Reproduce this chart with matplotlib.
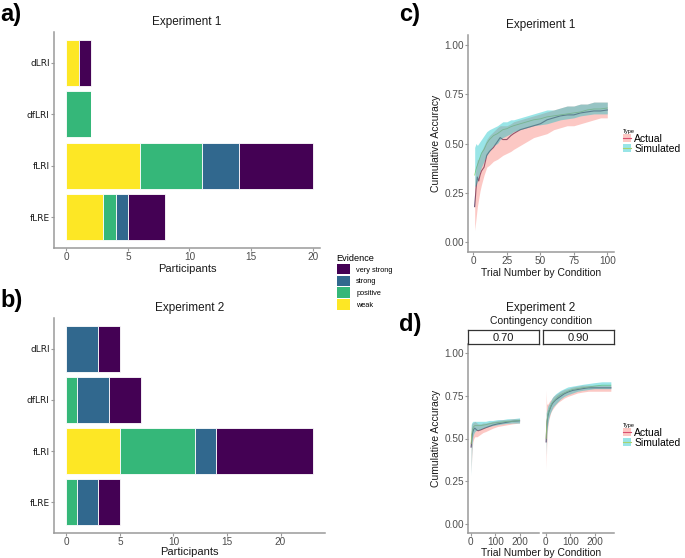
import matplotlib
matplotlib.use("Agg")
import matplotlib.pyplot as plt
from matplotlib.patches import Patch
from matplotlib.lines import Line2D

plt.rcParams['font.family'] = ['Liberation Sans', 'DejaVu Sans']

# ---- data: panels a/b (participants by evidence) ----
models = ['dLRI', 'dfLRI', 'fLRI', 'fLRE']
evidence = ['weak', 'positive', 'strong', 'very strong']
evidence_colors = {'very strong': '#440154', 'strong': '#31688E',
                   'positive': '#35B779', 'weak': '#FDE725'}

exp1_weak = [1, 0, 6, 3]
exp1_positive = [0, 2, 5, 1]
exp1_strong = [0, 0, 3, 1]
exp1_very_strong = [1, 0, 6, 3]

exp2_weak = [0, 0, 5, 0]
exp2_positive = [0, 1, 7, 1]
exp2_strong = [3, 3, 2, 2]
exp2_very_strong = [2, 3, 9, 2]

# ---- data: panel c (experiment 1 cumulative accuracy) ----
c_trial = [1, 2, 3, 4, 5, 6, 8, 10, 12, 15, 18, 20, 22, 25, 28, 30, 35, 40, 45, 50,
           55, 60, 65, 70, 75, 80, 85, 90, 95, 100]
c_act_mean = [0.18, 0.27, 0.33, 0.31, 0.34, 0.36, 0.38, 0.44, 0.46, 0.48, 0.51, 0.53,
              0.52, 0.52, 0.54, 0.55, 0.57, 0.58, 0.59, 0.60, 0.62, 0.63, 0.64, 0.645,
              0.645, 0.655, 0.66, 0.665, 0.665, 0.67]
c_act_lo = [0.06, 0.12, 0.18, 0.22, 0.26, 0.29, 0.34, 0.38, 0.39, 0.41, 0.42, 0.43,
            0.44, 0.45, 0.46, 0.47, 0.49, 0.51, 0.53, 0.54, 0.55, 0.57, 0.58, 0.59,
            0.59, 0.60, 0.61, 0.62, 0.63, 0.63]
c_act_hi = [0.30, 0.38, 0.42, 0.42, 0.44, 0.46, 0.49, 0.52, 0.54, 0.56, 0.58, 0.59,
            0.59, 0.59, 0.60, 0.61, 0.62, 0.63, 0.64, 0.65, 0.66, 0.67, 0.68, 0.69,
            0.69, 0.70, 0.70, 0.71, 0.71, 0.71]
c_sim_mean = [0.34, 0.37, 0.39, 0.41, 0.43, 0.45, 0.47, 0.50, 0.52, 0.54, 0.55, 0.56,
              0.57, 0.575, 0.585, 0.59, 0.60, 0.61, 0.62, 0.625, 0.635, 0.64, 0.645,
              0.65, 0.655, 0.66, 0.67, 0.675, 0.675, 0.68]
c_sim_lo = [0.28, 0.29, 0.31, 0.34, 0.36, 0.38, 0.41, 0.44, 0.46, 0.49, 0.50, 0.52,
            0.53, 0.54, 0.55, 0.56, 0.57, 0.58, 0.59, 0.595, 0.60, 0.61, 0.62, 0.625,
            0.63, 0.64, 0.645, 0.65, 0.65, 0.65]
c_sim_hi = [0.48, 0.50, 0.49, 0.50, 0.51, 0.52, 0.54, 0.56, 0.57, 0.58, 0.59, 0.60,
            0.61, 0.61, 0.62, 0.62, 0.63, 0.64, 0.65, 0.66, 0.67, 0.67, 0.68, 0.69,
            0.69, 0.70, 0.70, 0.71, 0.71, 0.71]

# ---- data: panel d (experiment 2, contingency 0.70 / 0.90) ----
d70_trial = [1, 3, 5, 8, 12, 16, 20, 25, 30, 35, 40, 50, 60, 75, 90, 110, 130, 150, 170, 200]
d70_act_mean = [0.45, 0.49, 0.52, 0.54, 0.555, 0.56, 0.555, 0.548, 0.545, 0.548, 0.55,
                0.556, 0.562, 0.57, 0.578, 0.585, 0.59, 0.595, 0.60, 0.603]
d70_act_lo = [0.30, 0.38, 0.44, 0.48, 0.50, 0.51, 0.51, 0.51, 0.515, 0.52, 0.525, 0.535,
              0.54, 0.55, 0.56, 0.57, 0.575, 0.58, 0.585, 0.59]
d70_act_hi = [0.56, 0.58, 0.59, 0.59, 0.595, 0.60, 0.595, 0.59, 0.585, 0.585, 0.585, 0.59,
              0.59, 0.595, 0.60, 0.605, 0.61, 0.61, 0.615, 0.615]
d70_sim_mean = [0.47, 0.52, 0.54, 0.56, 0.57, 0.575, 0.575, 0.575, 0.575, 0.575, 0.575,
                0.578, 0.58, 0.585, 0.59, 0.593, 0.596, 0.60, 0.60, 0.605]
d70_sim_lo = [0.28, 0.40, 0.47, 0.51, 0.53, 0.54, 0.545, 0.55, 0.55, 0.55, 0.555, 0.56,
              0.565, 0.57, 0.575, 0.58, 0.585, 0.588, 0.59, 0.59]
d70_sim_hi = [0.58, 0.59, 0.595, 0.60, 0.60, 0.60, 0.60, 0.60, 0.60, 0.60, 0.60, 0.60,
              0.60, 0.605, 0.605, 0.61, 0.61, 0.615, 0.615, 0.62]

d90_trial = [1, 3, 5, 8, 12, 16, 20, 25, 30, 40, 50, 60, 75, 90, 110, 130, 150, 175, 200, 230, 267]
d90_act_mean = [0.48, 0.56, 0.60, 0.63, 0.655, 0.67, 0.685, 0.70, 0.71, 0.725, 0.735,
                0.745, 0.76, 0.77, 0.78, 0.785, 0.79, 0.795, 0.795, 0.795, 0.795]
d90_act_lo = [0.32, 0.45, 0.52, 0.57, 0.61, 0.63, 0.65, 0.665, 0.675, 0.695, 0.71, 0.72,
              0.735, 0.745, 0.755, 0.765, 0.77, 0.775, 0.775, 0.775, 0.775]
d90_act_hi = [0.78, 0.70, 0.70, 0.70, 0.71, 0.72, 0.725, 0.735, 0.745, 0.755, 0.765,
              0.775, 0.785, 0.79, 0.80, 0.805, 0.81, 0.81, 0.81, 0.81, 0.81]
d90_sim_mean = [0.50, 0.57, 0.61, 0.64, 0.66, 0.675, 0.69, 0.705, 0.715, 0.73, 0.745,
                0.755, 0.765, 0.775, 0.785, 0.79, 0.795, 0.80, 0.805, 0.81, 0.81]
d90_sim_lo = [0.40, 0.50, 0.55, 0.59, 0.62, 0.64, 0.655, 0.67, 0.685, 0.70, 0.715, 0.73,
              0.745, 0.755, 0.765, 0.775, 0.78, 0.785, 0.79, 0.79, 0.79]
d90_sim_hi = [0.65, 0.66, 0.67, 0.69, 0.70, 0.71, 0.72, 0.735, 0.745, 0.76, 0.77, 0.78,
              0.79, 0.80, 0.805, 0.81, 0.815, 0.82, 0.825, 0.83, 0.83]

RED = '#F8766D'
TEAL = '#00BFC4'
AXIS_GREY = '#9a9a9a'
TICK_TXT = '#4d4d4d'
DARK = '#1a1a1a'

W, H = 685, 558
fig = plt.figure(figsize=(W / 100, H / 100), dpi=100)


def px_axes(left, top, right, bottom):
    return fig.add_axes([left / W, 1 - bottom / H, (right - left) / W, (bottom - top) / H])


def classic(ax):
    for s in ['top', 'right']:
        ax.spines[s].set_visible(False)
    for s in ['left', 'bottom']:
        ax.spines[s].set_color(AXIS_GREY)
        ax.spines[s].set_linewidth(1.1)
    ax.tick_params(colors=AXIS_GREY, labelcolor=TICK_TXT, labelsize=7.2, length=2,
                   width=0.8, pad=1)


def bar_panel(ax, weak, positive, strong, very_strong, title, xmin, xmax):
    ypos = list(range(len(models)))
    left = [0] * len(models)
    for name, vals in zip(evidence, [weak, positive, strong, very_strong]):
        ax.barh(ypos, vals, left=left, height=0.9, color=evidence_colors[name],
                edgecolor='white', linewidth=0.6)
        left = [a + b for a, b in zip(left, vals)]
    classic(ax)
    ax.set_yticks(ypos)
    ax.set_yticklabels(models, family='DejaVu Sans', fontsize=6.5, color=DARK)
    ax.set_ylim(len(models) - 0.4, -0.6)
    ax.set_xlim(xmin, xmax)
    ax.set_xticks([0, 5, 10, 15, 20])
    ax.set_xlabel('Participants', fontsize=8, color=DARK, labelpad=1)
    ax.set_title(title, fontsize=8.5, color=DARK, pad=5)


ax_a = px_axes(54, 32, 320, 248)
bar_panel(ax_a, exp1_weak, exp1_positive, exp1_strong, exp1_very_strong, 'Experiment 1', -1.0, 20.6)
ax_b = px_axes(54, 318, 325, 533)
bar_panel(ax_b, exp2_weak, exp2_positive, exp2_strong, exp2_very_strong, 'Experiment 2', -1.15, 24.15)
ax_b.xaxis.labelpad = 0

ev_handles = [Patch(facecolor=evidence_colors[e]) for e in reversed(evidence)]
fig.legend(ev_handles, list(reversed(evidence)), title='Evidence', loc='upper left',
           bbox_to_anchor=(336 / W, 1 - 253 / H), frameon=False, fontsize=5.3,
           title_fontsize=6.6, handlelength=1.85, handleheight=1.85, labelspacing=0.15,
           handletextpad=0.8, alignment='left', borderpad=0.1, borderaxespad=0)


def ribbon(ax, t, lo, hi, mean, col, line_col, lw):
    ax.plot(t, mean, color=line_col, lw=lw, zorder=2)
    ax.fill_between(t, lo, hi, color=col, alpha=0.4, lw=0, zorder=3)


def acc_axes(ax):
    classic(ax)
    ax.set_ylim(-0.05, 1.05)
    ax.set_yticks([0, 0.25, 0.5, 0.75, 1.0])
    ax.set_yticklabels(['0.00', '0.25', '0.50', '0.75', '1.00'])


# panel c
ax_c = px_axes(468, 35, 614, 252)
ribbon(ax_c, c_trial, c_act_lo, c_act_hi, c_act_mean, RED, '#5a3f68', 0.8)
ribbon(ax_c, c_trial, c_sim_lo, c_sim_hi, c_sim_mean, TEAL, '#a9d36f', 0.6)
acc_axes(ax_c)
ax_c.set_xlim(-4, 105)
ax_c.set_xticks([0, 25, 50, 75, 100])
ax_c.set_title('Experiment 1', fontsize=8.5, color=DARK, pad=5)
ax_c.set_xlabel('Trial Number by Condition', fontsize=7.5, color=DARK, labelpad=1.5)
ax_c.set_ylabel('Cumulative Accuracy', fontsize=7.5, color=DARK, labelpad=2.5)

# panel d
ax_d1 = px_axes(468, 344, 539, 533)
ax_d2 = px_axes(543, 344, 614, 533)
ribbon(ax_d1, d70_trial, d70_act_lo, d70_act_hi, d70_act_mean, RED, '#5a3f68', 0.8)
ribbon(ax_d1, d70_trial, d70_sim_lo, d70_sim_hi, d70_sim_mean, TEAL, '#a9d36f', 0.6)
ribbon(ax_d2, d90_trial, d90_act_lo, d90_act_hi, d90_act_mean, RED, '#5a3f68', 0.8)
ribbon(ax_d2, d90_trial, d90_sim_lo, d90_sim_hi, d90_sim_mean, TEAL, '#a9d36f', 0.6)
for ax in (ax_d1, ax_d2):
    acc_axes(ax)
    ax.set_xlim(-12, 280)
    ax.set_xticks([0, 100, 200])
ax_d2.spines['left'].set_visible(False)
ax_d2.tick_params(axis='y', left=False, labelleft=False)
ax_d1.set_ylabel('Cumulative Accuracy', fontsize=7.5, color=DARK, labelpad=2.5)
fig.text(541 / W, 1 - 552.5 / H, 'Trial Number by Condition', ha='center', va='center',
         fontsize=7.5, color=DARK)

for (l, r), lab in zip([(468, 539), (543, 614)], ['0.70', '0.90']):
    sa = px_axes(l, 330, r, 344)
    sa.set_xticks([])
    sa.set_yticks([])
    for s in sa.spines.values():
        s.set_color('#333333')
        s.set_linewidth(0.9)
    sa.text(0.5, 0.45, lab, ha='center', va='center', fontsize=8, color=DARK,
            transform=sa.transAxes)

fig.text(541 / W, 1 - 307.5 / H, 'Experiment 2', ha='center', va='center', fontsize=8.5,
         color=DARK)
fig.text(541 / W, 1 - 321.5 / H, 'Contingency condition', ha='center', va='center',
         fontsize=7.5, color=DARK)

# Type legends
type_handles = [(Patch(facecolor=RED, alpha=0.4), Line2D([], [], color='#d9506f', lw=0.8)),
                (Patch(facecolor=TEAL, alpha=0.4), Line2D([], [], color='#a9d36f', lw=0.8))]
for top in (129, 423):
    fig.legend(type_handles, ['Actual', 'Simulated'], title='Type', loc='upper left',
               bbox_to_anchor=(623 / W, 1 - top / H), frameon=False, fontsize=7.5,
               title_fontsize=4, handlelength=0.75, handleheight=0.8, labelspacing=0.0,
               handletextpad=0.35, alignment='left', borderpad=0, borderaxespad=0)

# panel letters
for x, y, lab in [(0, 15, 'a)'), (0, 301, 'b)'), (399, 14, 'c)'), (399, 325, 'd)')]:
    fig.text(x / W, 1 - y / H, lab, fontsize=17, fontweight='bold', va='center', ha='left')

fig.savefig('out.png', dpi=100)
